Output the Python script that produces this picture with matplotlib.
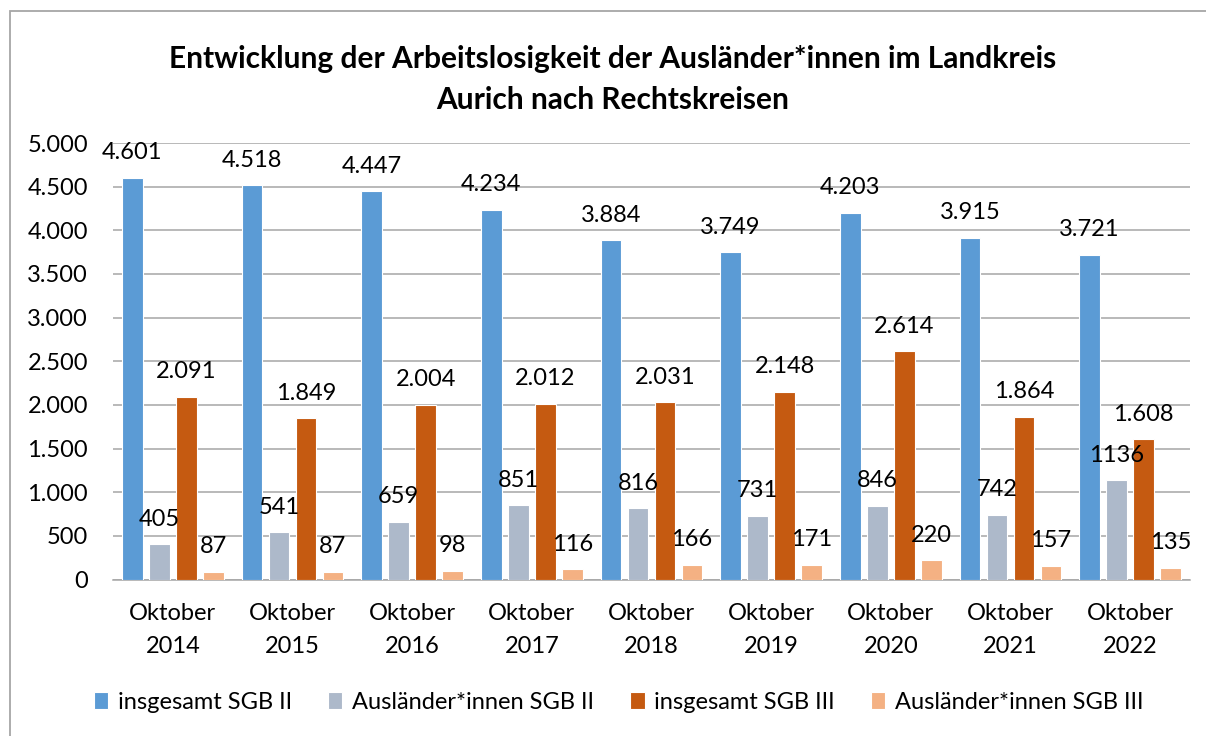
import matplotlib.pyplot as plt
import matplotlib.patches as mpatches
import numpy as np

# %% Data
years = ['2014', '2015', '2016', '2017', '2018', '2019', '2020', '2021', '2022']
categories = ['Oktober\n' + y for y in years]

insg_sgb2 = [4601, 4518, 4447, 4234, 3884, 3749, 4203, 3915, 3721]
ausl_sgb2 = [405, 541, 659, 851, 816, 731, 846, 742, 1136]
insg_sgb3 = [2091, 1849, 2004, 2012, 2031, 2148, 2614, 1864, 1608]
ausl_sgb3 = [87, 87, 98, 116, 166, 171, 220, 157, 135]

series_names = ['insgesamt SGB II', 'Ausländer*innen SGB II',
                'insgesamt SGB III', 'Ausländer*innen SGB III']
colors = ['#5B9BD5', '#ADB9CA', '#C55A11', '#F4B183']

title = ('Entwicklung der Arbeitslosigkeit der Ausländer*innen im Landkreis\n'
         'Aurich nach Rechtskreisen')


def de_thousands(v):
    # German number style: 4.601 instead of 4,601
    return f'{int(v):,}'.replace(',', '.')


plt.rcParams['font.family'] = ['Lato', 'DejaVu Sans']
FS = 17

# %% Figure
fig = plt.figure(figsize=(12.06, 7.36), dpi=100)
ax = fig.add_axes([0.0937, 0.2126, 0.8930, 0.5931])

x = np.arange(len(categories))
step = 0.2256
width = 0.171
all_series = [insg_sgb2, ausl_sgb2, insg_sgb3, ausl_sgb3]

for i, (vals, name, col) in enumerate(zip(all_series, series_names, colors)):
    bars = ax.bar(x + (i - 1.5) * step, vals, width, color=col,
                  edgecolor='white', linewidth=0.8, label=name, zorder=3)
    if i == 1:
        labels = [str(v) for v in vals]
    else:
        labels = [de_thousands(v) for v in vals]
    ax.bar_label(bars, labels=labels, padding=10.5, fontsize=FS,
                 color='black', zorder=4)

ax.set_xlim(-0.5, len(categories) - 0.5)
ax.set_ylim(0, 5000)
ax.set_yticks(np.arange(0, 5001, 500))
ax.set_yticklabels([de_thousands(v) for v in np.arange(0, 5001, 500)],
                   fontsize=FS)
ax.set_xticks(x)
ax.set_xticklabels(categories, fontsize=FS, linespacing=1.7)
ax.tick_params(axis='y', length=0, pad=18)
ax.tick_params(axis='x', length=0, pad=17)

ax.grid(axis='y', color='#a6a6a6', linewidth=1.1, zorder=0)
for side in ['top', 'right', 'left']:
    ax.spines[side].set_visible(False)
ax.spines['bottom'].set_color('#a6a6a6')
ax.spines['bottom'].set_linewidth(1.1)

fig.text(0.508, 0.939, title, ha='center', va='top', fontsize=21.5,
         fontweight='bold', linespacing=1.55)

fig.legend(loc='center', bbox_to_anchor=(0.513, 0.0455), ncol=4,
           frameon=False, fontsize=FS, handlelength=0.6, handleheight=0.7,
           handletextpad=0.4, columnspacing=1.55)

# chart frame
fig.patches.append(mpatches.Rectangle((10 / 1206, -0.1), 1.2, 0.1 + 725 / 736,
                                      transform=fig.transFigure, fill=False,
                                      edgecolor='#a6a6a6', linewidth=1.3))

fig.savefig('out.png', dpi=100)
